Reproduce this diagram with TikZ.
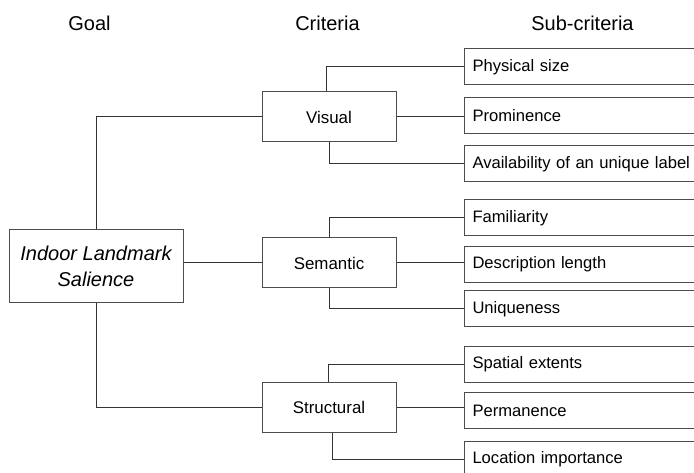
\documentclass[tikz,border=0pt]{standalone}
\usepackage{fontspec}
\setmainfont{Liberation Sans}
\begin{document}
\begin{tikzpicture}[x=1pt,y=-1pt,
  box/.style={draw=black!70,line width=1pt,rectangle,inner sep=0pt},
  critbox/.style={box,minimum width=134pt,minimum height=50pt,font=\fontsize{16.9}{20}\selectfont},
  subbox/.style={box,anchor=west,minimum height=36pt,text width=230pt,inner xsep=8pt,align=left,font=\fontsize{16.6}{20}\selectfont},
  head/.style={anchor=base,font=\fontsize{20}{24}\selectfont},
  conn/.style={draw=black!80,line width=1pt}]
\clip (0,0) rectangle (694,473);
\useasboundingbox (0,0) rectangle (694,473);
\fill[white] (0,0) rectangle (694,473);
% headers
\node[head] (hgoal) at (89.5,31) {Goal};
\node[head] (hcrit) at (327.5,31) {Criteria};
\node[head] (hsub) at (582.5,31) {Sub-criteria};
% goal
\node[box,minimum width=174pt,minimum height=73pt,align=center,font=\fontsize{20}{26}\selectfont\itshape] (goal) at (96,266.5) {Indoor Landmark\\Salience};
% criteria
\node[critbox] (vis) at (329,117) {Visual};
\node[critbox] (sem) at (329,263) {Semantic};
\node[critbox] (str) at (329,407) {Structural};
% sub-criteria
\node[subbox] (phys) at (464,67) {Physical size};
\node[subbox] (prom) at (464,115.5) {Prominence};
\node[subbox] (avail) at (464,164) {Availability of an unique label};
\node[subbox] (fam) at (464,218) {Familiarity};
\node[subbox] (desc) at (464,264.5) {Description length};
\node[subbox] (uniq) at (464,309) {Uniqueness};
\node[subbox] (spat) at (464,364) {Spatial extents};
\node[subbox] (perm) at (464,410.5) {Permanence};
\node[subbox] (loc) at (464,459) {Location importance};
% goal connectors
\draw[conn] (goal.north) |- (vis.west);
\draw[conn] (sem.west) -- (sem.west -| goal.east);
\draw[conn] (goal.south) |- (str.west);
% visual
\draw[conn] ([xshift=-3pt]vis.north) |- (phys.west);
\draw[conn] (vis.east) -- (vis.east -| prom.west);
\draw[conn] (vis.south) |- (avail.west);
% semantic
\draw[conn] (sem.north) |- (fam.west);
\draw[conn] (sem.east) -- (sem.east -| desc.west);
\draw[conn] (sem.south) |- (uniq.west);
% structural
\draw[conn] ([xshift=-1pt]str.north) |- (spat.west);
\draw[conn] (str.east) -- (str.east -| perm.west);
\draw[conn] ([xshift=3pt]str.south) |- (loc.west);
\end{tikzpicture}
\end{document}
